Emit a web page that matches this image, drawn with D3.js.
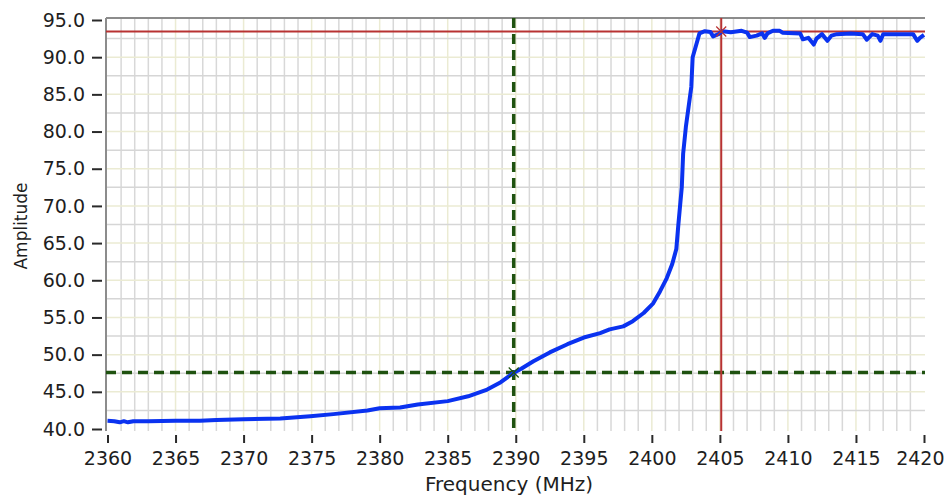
<!DOCTYPE html>
<html>
<head>
<meta charset="utf-8">
<script src="https://cdn.jsdelivr.net/npm/d3@7/dist/d3.min.js"></script>
<style>
  html, body { margin: 0; padding: 0; background: #ffffff; }
  svg { display: block; }
  text { font-family: "DejaVu Sans", Verdana, sans-serif; fill: #1e1e1e; }
</style>
</head>
<body>
<svg id="chart" width="945" height="501"></svg>
<script>
// Measured trace: frequency (MHz) and amplitude
const freq = [
  2360.0, 2360.5, 2360.9, 2361.2, 2361.5, 2361.9, 2363.0, 2365.0, 2366.8, 2368.0,
  2370.0, 2372.7, 2374.9, 2376.6, 2379.1, 2380.0, 2381.5, 2382.8, 2385.0, 2386.5,
  2387.9, 2388.9, 2389.8, 2390.4, 2391.3, 2392.5, 2393.8, 2395.0, 2396.2, 2396.9,
  2397.9, 2398.6, 2399.4, 2400.1, 2400.6, 2401.1, 2401.5, 2401.8, 2401.95, 2402.1,
  2402.2, 2402.3, 2402.5, 2402.7, 2402.9, 2403.0, 2403.3, 2403.5, 2403.9, 2404.3,
  2404.5, 2404.9, 2405.2, 2405.8, 2406.6, 2407.0, 2407.2, 2407.7, 2408.1, 2408.3,
  2408.5, 2408.9, 2409.4, 2409.6, 2410.9, 2411.1, 2411.5, 2411.9, 2412.1, 2412.5,
  2412.9, 2413.2, 2413.6, 2414.6, 2415.5, 2415.8, 2416.2, 2416.6, 2416.8, 2417.0,
  2419.2, 2419.5, 2419.7, 2420.0
];
const amplitude = [
  41.10, 41.05, 40.90, 41.05, 40.90, 41.05, 41.05, 41.10, 41.10, 41.20,
  41.30, 41.40, 41.70, 42.00, 42.50, 42.80, 42.90, 43.30, 43.75, 44.40,
  45.30, 46.30, 47.50, 48.10, 49.10, 50.30, 51.40, 52.30, 52.90, 53.40,
  53.80, 54.50, 55.60, 56.90, 58.50, 60.30, 62.20, 64.20, 67.50, 70.50,
  72.50, 77.00, 80.60, 83.30, 86.00, 90.00, 91.90, 93.20, 93.50, 93.40,
  92.80, 93.10, 93.50, 93.35, 93.55, 93.30, 92.70, 92.90, 93.20, 92.60,
  93.20, 93.55, 93.55, 93.30, 93.20, 92.40, 92.60, 91.70, 92.50, 93.10,
  92.20, 92.90, 93.10, 93.20, 93.10, 92.35, 93.10, 92.90, 92.20, 93.10,
  93.10, 92.20, 92.60, 93.00
];

// Axis tick labels
const xTicks = [2360, 2365, 2370, 2375, 2380, 2385, 2390, 2395, 2400, 2405, 2410, 2415, 2420];
const yTicks = [40, 45, 50, 55, 60, 65, 70, 75, 80, 85, 90, 95];

// Cursor positions: [frequency, amplitude]
const cursorA = [2389.85, 47.6];   // green dashed cursor
const cursorB = [2405.1, 93.45];   // red cursor

const svg = d3.select("#chart");

const plotLeft = 106, plotRight = 925, plotTop = 18, plotBottom = 431;

const x = d3.scaleLinear().domain([2360, 2420]).range([107.5, 924]);
const y = d3.scaleLinear().domain([40, 95]).range([429, 20]);

// Grid: minor lines every 1 MHz / 2.5 units, major at labelled ticks
const grid = svg.append("g");
const minorX = d3.range(2361, 2420, 1).filter(v => v % 5 !== 0);
const minorY = d3.range(42.5, 95, 5);

grid.selectAll(".vminor").data(minorX).join("line")
  .attr("x1", d => x(d)).attr("x2", d => x(d))
  .attr("y1", plotTop).attr("y2", plotBottom)
  .attr("stroke", "#d8d8d8").attr("stroke-width", 1.5);
grid.selectAll(".vmajor").data(xTicks.filter(v => v > 2360 && v < 2420)).join("line")
  .attr("x1", d => x(d)).attr("x2", d => x(d))
  .attr("y1", plotTop).attr("y2", plotBottom)
  .attr("stroke", "#ebebd3").attr("stroke-width", 1.5);
grid.selectAll(".hminor").data(minorY).join("line")
  .attr("x1", plotLeft).attr("x2", plotRight)
  .attr("y1", d => y(d)).attr("y2", d => y(d))
  .attr("stroke", "#d6d6d6").attr("stroke-width", 1.5);
grid.selectAll(".hmajor").data(yTicks.filter(v => v > 40 && v < 95)).join("line")
  .attr("x1", plotLeft).attr("x2", plotRight)
  .attr("y1", d => y(d)).attr("y2", d => y(d))
  .attr("stroke", "#ebebd3").attr("stroke-width", 1.5);

// Plot frame (top and left edges)
svg.append("line")
  .attr("x1", plotLeft).attr("x2", plotRight).attr("y1", plotTop).attr("y2", plotTop)
  .attr("stroke", "#8c8c8c").attr("stroke-width", 2);
svg.append("line")
  .attr("x1", plotLeft).attr("x2", plotLeft).attr("y1", plotTop).attr("y2", plotBottom)
  .attr("stroke", "#8c8c8c").attr("stroke-width", 2);

// Cursor lines
const green = "#1f5210", red = "#b83232";
svg.append("line")
  .attr("x1", plotLeft).attr("x2", plotRight)
  .attr("y1", y(cursorA[1])).attr("y2", y(cursorA[1]))
  .attr("stroke", green).attr("stroke-width", 3.5).attr("stroke-dasharray", "10,6");
svg.append("line")
  .attr("x1", x(cursorA[0])).attr("x2", x(cursorA[0]))
  .attr("y1", plotTop).attr("y2", plotBottom)
  .attr("stroke", green).attr("stroke-width", 3.5).attr("stroke-dasharray", "10,6");
svg.append("line")
  .attr("x1", plotLeft).attr("x2", plotRight)
  .attr("y1", y(cursorB[1])).attr("y2", y(cursorB[1]))
  .attr("stroke", red).attr("stroke-width", 2);
svg.append("line")
  .attr("x1", x(cursorB[0])).attr("x2", x(cursorB[0]))
  .attr("y1", plotTop).attr("y2", plotBottom)
  .attr("stroke", red).attr("stroke-width", 2);

// Trace
const pts = freq.map((f, i) => [f, amplitude[i]]);
svg.append("path")
  .datum(pts)
  .attr("fill", "none")
  .attr("stroke", "#0a32f0")
  .attr("stroke-width", 4)
  .attr("stroke-linejoin", "round")
  .attr("d", d3.line().x(d => x(d[0])).y(d => y(d[1])));

// Cursor cross markers
[[cursorA, green], [cursorB, red]].forEach(([c, col]) => {
  const cx = x(c[0]), cy = y(c[1]), s = 5;
  svg.append("path")
    .attr("d", `M${cx - s},${cy - s}L${cx + s},${cy + s}M${cx - s},${cy + s}L${cx + s},${cy - s}`)
    .attr("stroke", col).attr("stroke-width", 1.2).attr("fill", "none");
});

// Axes
const yAxis = d3.axisLeft(y).tickValues(yTicks).tickFormat(d3.format(".1f"))
  .tickSize(10).tickPadding(7);
const gy = svg.append("g").attr("transform", "translate(102,0)").call(yAxis);
gy.select(".domain").remove();
gy.selectAll(".tick line").attr("stroke", "#2a2a2a").attr("stroke-width", 2);
gy.selectAll(".tick text").style("font-size", "19px").attr("fill", "#1e1e1e");

const xAxis = d3.axisBottom(x).tickValues(xTicks).tickFormat(d3.format("d"))
  .tickSize(8).tickPadding(9);
const gx = svg.append("g").attr("transform", "translate(0,435)").call(xAxis);
gx.select(".domain").remove();
gx.selectAll(".tick line").attr("stroke", "#2a2a2a").attr("stroke-width", 2);
gx.selectAll(".tick text").style("font-size", "19px").attr("fill", "#1e1e1e");
// keep the last label inside the right edge of the canvas
gx.selectAll(".tick text").filter(d => d === 2420).attr("text-anchor", "end").attr("x", 20);

// Axis titles
svg.append("text")
  .attr("x", 509).attr("y", 491)
  .attr("text-anchor", "middle")
  .style("font-size", "20px")
  .text("Frequency (MHz)");
svg.append("text")
  .attr("transform", "translate(27,226) rotate(-90)")
  .attr("text-anchor", "middle")
  .style("font-size", "17px")
  .text("Amplitude");
</script>
</body>
</html>
